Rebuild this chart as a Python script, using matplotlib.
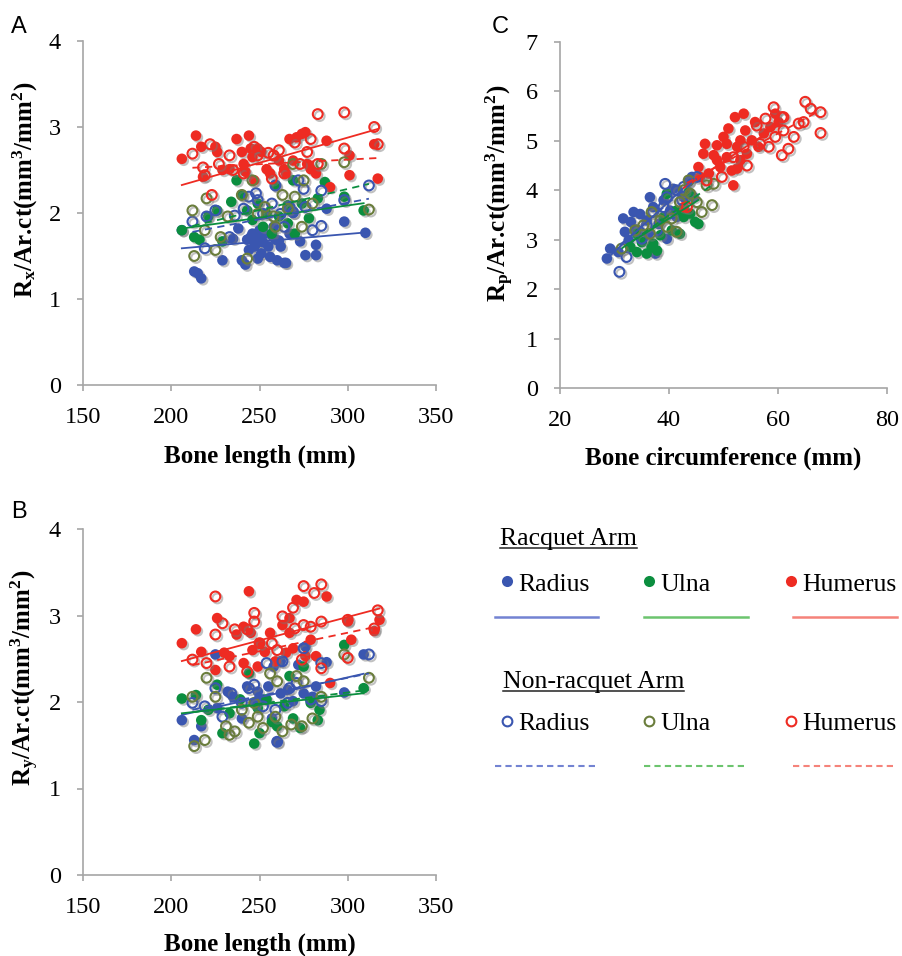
import matplotlib
matplotlib.use('Agg')
import matplotlib.pyplot as plt
import matplotlib.patheffects as pe
from matplotlib.lines import Line2D
import numpy as np

# ---- Panel A: Rx/Ar.ct vs bone length ----
a_rad_r_x = [206, 213, 217, 215, 229, 235, 238, 240, 242, 243, 244, 246, 247, 249, 249, 251, 253, 255, 256, 259,
             260, 262, 264, 265, 267, 269, 273, 276, 282, 282, 288, 298, 310, 258, 245, 250, 252, 257, 261, 248]
a_rad_r_y = [1.80, 1.32, 1.24, 1.30, 1.45, 1.70, 1.82, 1.45, 1.40, 1.69, 1.57, 1.76, 1.61, 1.47, 1.69, 1.53, 1.76,
             1.61, 1.49, 1.69, 1.45, 1.61, 1.42, 1.42, 1.76, 2.00, 1.67, 1.51, 1.63, 1.51, 2.05, 1.90, 1.77, 1.84,
             1.72, 1.80, 1.66, 1.74, 1.68, 1.64]
a_uln_r_x = [206, 213, 216, 221, 226, 229, 234, 237, 240, 243, 246, 249, 252, 254, 257, 259, 261, 266, 269, 270,
             274, 278, 283, 287, 298, 309, 266]
a_uln_r_y = [1.80, 1.72, 1.69, 1.96, 2.03, 1.67, 2.13, 2.38, 2.21, 2.03, 1.92, 2.11, 1.84, 1.99, 1.76, 2.32, 1.96,
             2.09, 2.38, 1.76, 2.11, 1.94, 2.17, 2.36, 2.19, 2.03, 1.88]
a_hum_r_x = [206, 214, 217, 218, 225, 226, 229, 233, 237, 240, 241, 242, 244, 245, 246, 247, 249, 251, 254, 256,
             261, 264, 265, 267, 269, 271, 274, 276, 277, 279, 282, 288, 290, 301, 301, 315, 317]
a_hum_r_y = [2.63, 2.90, 2.77, 2.42, 2.77, 2.71, 2.50, 2.51, 2.86, 2.71, 2.57, 2.48, 2.90, 2.75, 2.65, 2.38, 2.75,
             2.71, 2.51, 2.46, 2.61, 2.51, 2.46, 2.86, 2.61, 2.88, 2.92, 2.94, 2.57, 2.51, 2.46, 2.84, 2.30, 2.67,
             2.44, 2.80, 2.40]
a_rad_n_x = [212, 219, 220, 225, 233, 236, 241, 244, 248, 249, 252, 257, 259, 262, 264, 269, 272, 275, 276, 280,
             285, 285, 298, 312, 267]
a_rad_n_y = [1.90, 1.59, 1.96, 2.03, 1.72, 1.97, 2.05, 2.19, 2.23, 2.15, 1.99, 2.11, 2.32, 1.99, 1.84, 2.01, 2.38,
             2.28, 2.07, 1.80, 2.26, 1.85, 2.15, 2.32, 2.07]
a_uln_n_x = [212, 213, 219, 220, 225, 228, 232, 240, 243, 246, 249, 253, 258, 263, 266, 269, 270, 274, 275, 280,
             285, 298, 312, 259]
a_uln_n_y = [2.03, 1.50, 1.80, 2.17, 1.57, 1.72, 1.96, 2.21, 1.47, 2.38, 1.99, 2.07, 1.96, 2.21, 2.05, 2.57, 2.19,
             1.84, 2.38, 2.11, 2.57, 2.59, 2.04, 1.84]
a_hum_n_x = [212, 218, 219, 223, 222, 227, 233, 241, 247, 249, 255, 258, 261, 264, 270, 273, 277, 279, 283, 283,
             298, 298, 315, 317, 257, 235]
a_hum_n_y = [2.69, 2.53, 2.44, 2.21, 2.80, 2.57, 2.67, 2.46, 2.77, 2.67, 2.70, 2.67, 2.73, 2.46, 2.82, 2.57, 2.71,
             2.86, 3.15, 2.57, 3.17, 2.75, 3.00, 2.80, 2.40, 2.50]
# trendline (slope, intercept) as shown: radius, ulna, humerus
a_fit_r = [(0.00177, 1.225), (0.00286, 1.23), (0.00587, 1.116)]
a_fit_n = [(0.00386, 0.962), (0.0049, 0.81), (0.00108, 2.297)]

# ---- Panel B: Ry/Ar.ct vs bone length ----
b_rad_r_x = [206, 213, 217, 225, 226, 232, 235, 240, 243, 247, 249, 252, 255, 257, 260, 262, 266, 269, 272, 275,
             276, 280, 282, 288, 298, 309, 258, 262]
b_rad_r_y = [1.79, 1.56, 1.72, 2.55, 1.93, 2.12, 2.06, 1.81, 2.18, 1.99, 2.12, 2.03, 2.18, 1.81, 1.54, 2.10, 2.14,
             2.01, 2.43, 2.10, 2.64, 2.06, 2.18, 2.46, 2.11, 2.55, 2.41, 2.47]
b_uln_r_x = [206, 214, 217, 221, 226, 229, 233, 239, 244, 247, 249, 250, 254, 257, 260, 264, 267, 269, 273, 275,
             279, 283, 284, 298, 309]
b_uln_r_y = [2.04, 2.08, 1.79, 1.91, 2.20, 1.64, 1.87, 2.03, 2.33, 1.52, 1.93, 1.64, 2.03, 1.77, 1.72, 1.95, 2.30,
             1.81, 1.70, 2.41, 1.99, 1.79, 1.91, 2.66, 2.16]
b_hum_r_x = [206, 214, 217, 225, 226, 230, 233, 237, 241, 244, 245, 246, 249, 250, 253, 256, 259, 263, 265, 267,
             269, 271, 275, 276, 279, 282, 288, 290, 300, 302, 315, 318, 241, 267]
b_hum_r_y = [2.68, 2.84, 2.58, 2.37, 2.97, 2.57, 2.53, 2.78, 2.45, 3.28, 2.80, 2.60, 2.41, 2.68, 2.58, 2.80, 2.47,
             2.89, 2.57, 2.97, 2.62, 3.18, 3.16, 2.53, 2.72, 2.53, 3.22, 2.22, 2.93, 2.72, 2.82, 2.95, 2.87, 2.80]
b_rad_n_x = [212, 219, 225, 229, 234, 240, 244, 247, 252, 254, 259, 260, 263, 266, 271, 275, 279, 285, 285, 312, 267]
b_rad_n_y = [1.99, 1.95, 2.16, 1.83, 2.10, 1.99, 2.16, 2.20, 1.95, 2.45, 1.91, 1.54, 2.47, 1.99, 2.22, 2.62, 2.03,
             2.45, 2.01, 2.55, 2.16]
b_uln_n_x = [212, 213, 219, 220, 225, 231, 233, 236, 240, 244, 247, 249, 252, 256, 259, 260, 263, 268, 271, 274,
             275, 280, 285, 298, 312]
b_uln_n_y = [2.06, 1.49, 1.56, 2.28, 2.06, 1.72, 1.62, 1.66, 1.91, 1.76, 1.99, 1.83, 1.70, 2.33, 1.83, 2.24, 1.66,
             1.74, 2.30, 1.72, 2.24, 1.81, 2.06, 2.55, 2.28]
b_hum_n_x = [212, 220, 225, 225, 229, 233, 236, 243, 243, 247, 247, 250, 257, 260, 263, 269, 270, 274, 275, 275,
             279, 281, 285, 285, 285, 300, 300, 315, 317]
b_hum_n_y = [2.49, 2.45, 3.22, 2.78, 2.91, 2.41, 2.84, 2.84, 2.35, 3.03, 2.93, 2.68, 2.68, 2.60, 2.99, 3.09, 2.85,
             2.49, 3.34, 2.89, 2.87, 3.26, 3.36, 2.93, 2.39, 2.95, 2.51, 2.85, 3.06]
b_fit_r = [(0.00462, 0.899), (0.00225, 1.406), (0.00542, 1.357)]
b_fit_n = [(0.0042, 1.02), (0.0026, 1.33), (0.00427, 1.52)]

# ---- Panel C: Rp/Ar.ct vs bone circumference ----
c_rad_r_x = [28.6, 29.2, 30.7, 31.6, 31.9, 32.6, 33.5, 34.1, 34.7, 35.3, 35.9, 36.5, 37.1, 37.5, 38.1, 39.0, 39.6,
             40.2, 40.8, 41.4, 42.7, 43.6, 44.2, 44.5, 33.0, 36.2]
c_rad_r_y = [2.62, 2.82, 2.75, 3.43, 3.16, 2.99, 3.56, 3.19, 3.52, 3.05, 3.39, 3.86, 3.66, 2.72, 3.32, 3.80, 3.02,
             3.59, 4.03, 3.46, 3.86, 4.17, 4.27, 3.86, 3.36, 3.12]
c_uln_r_x = [32.9, 34.1, 35.0, 35.9, 36.8, 37.8, 38.4, 39.0, 39.6, 40.5, 41.4, 42.0, 42.7, 43.9, 44.8, 45.4, 43.6,
             34.1, 37.1]
c_uln_r_y = [2.85, 2.75, 2.95, 2.72, 2.85, 2.78, 3.09, 3.46, 3.93, 3.19, 3.59, 3.12, 3.46, 3.53, 3.36, 3.32, 3.96,
             3.12, 2.92]
c_hum_r_x = [45.4, 46.3, 46.6, 47.3, 48.2, 48.8, 49.4, 50.0, 50.6, 50.9, 51.5, 51.8, 52.1, 52.5, 53.1, 53.7, 54.0,
             54.3, 55.2, 55.8, 56.4, 57.4, 58.6, 59.5, 60.1, 52.5, 48.8, 45.7, 53.1, 50.6, 42.7]
c_hum_r_y = [4.47, 4.74, 4.94, 4.34, 4.71, 4.91, 4.47, 5.08, 4.67, 5.25, 4.40, 4.10, 5.48, 4.88, 4.61, 5.55, 5.21,
             4.74, 5.01, 5.38, 4.88, 5.15, 5.28, 5.55, 5.38, 4.44, 4.61, 4.27, 5.01, 4.94, 3.66]
c_rad_n_x = [30.9, 32.2, 34.1, 35.9, 37.1, 39.3, 39.6, 41.4, 42.4, 42.7, 45.1, 37.8, 40.2, 35.0, 39.0]
c_rad_n_y = [2.35, 2.65, 3.19, 3.29, 3.56, 4.13, 3.86, 4.00, 3.80, 4.07, 4.27, 3.19, 3.53, 3.02, 3.66]
c_uln_n_x = [31.3, 33.8, 35.3, 36.5, 36.8, 38.4, 39.6, 40.5, 41.4, 42.0, 42.7, 43.6, 45.1, 46.0, 46.9, 47.9, 48.2,
             43.9]
c_uln_n_y = [2.82, 3.19, 3.29, 3.12, 3.56, 3.39, 3.26, 3.43, 3.16, 3.76, 4.00, 4.20, 3.76, 3.56, 4.10, 3.70, 4.13,
             3.93]
c_hum_n_x = [43.3, 46.9, 49.7, 53.7, 54.3, 56.1, 57.7, 58.3, 59.2, 59.5, 60.7, 60.7, 61.0, 61.9, 62.9, 63.8, 64.7,
             65.0, 66.0, 67.8, 67.8, 51.8, 56.7, 61.0]
c_hum_n_y = [3.66, 4.20, 4.27, 4.88, 4.50, 5.31, 5.45, 4.88, 5.68, 5.08, 5.48, 4.71, 5.21, 4.84, 5.08, 5.35, 5.38,
             5.79, 5.65, 5.58, 5.16, 4.67, 4.94, 5.48]
c_fit_r = [(0.1016, -0.29), (0.069, 0.67), (0.073, 0.93)]
c_fit_n = [(0.095, -0.05), (0.0775, 0.395), (0.06, 1.55)]

bones = ['Radius', 'Ulna', 'Humerus']
filled_colors = ['#3a56b0', '#0b8e3f', '#ee2b22']
open_colors = ['#3a56b0', '#6a7d3c', '#ee2b22']
dash_colors = ['#3a56b0', '#0b8e3f', '#ee2b22']
legend_line_colors = ['#7383d2', '#6cc46e', '#f5837a']

plt.rcParams['font.family'] = 'Liberation Serif'
plt.rcParams['mathtext.fontset'] = 'custom'
plt.rcParams['mathtext.rm'] = 'Liberation Serif:bold'
plt.rcParams['mathtext.it'] = 'Liberation Serif:bold:italic'
plt.rcParams['mathtext.bf'] = 'Liberation Serif:bold'

W, H = 902, 956
fig = plt.figure(figsize=(W / 100, H / 100), dpi=100)

shadow_fill = [pe.SimplePatchShadow(offset=(1.4, -1.4), shadow_rgbFace='#777777', alpha=0.45), pe.Normal()]
shadow_open = [pe.SimpleLineShadow(offset=(1.4, -1.4), shadow_color='#777777', alpha=0.45), pe.Normal()]


def draw_panel(ax, racquet, nonracquet, fit_r, fit_n, xlim, xticks, ylim, yticks, xlabel, ylabel, lab_pos):
    for (x, y), c in zip(racquet, filled_colors):
        ax.scatter(x, y, s=58, color=c, edgecolors='none', zorder=2, path_effects=shadow_fill)
    for (x, y), c in zip(nonracquet, open_colors):
        ax.scatter(x, y, s=50, facecolors='none', edgecolors=c, linewidths=1.5, zorder=2.5,
                   path_effects=shadow_open)
    for (x, y), (m, b), c in zip(racquet, fit_r, filled_colors):
        xs = np.array([min(x), max(x)])
        ax.plot(xs, m * xs + b, color=c, lw=1.3, zorder=3)
    for (x, y), (m, b), c in zip(nonracquet, fit_n, dash_colors):
        xs = np.array([min(x), max(x)])
        ax.plot(xs, m * xs + b, color=c, lw=1.3, ls=(0, (4, 3)), zorder=3)

    ax.set_xlim(xlim)
    ax.set_ylim(ylim)
    ax.set_xticks(xticks)
    ax.set_yticks(yticks)
    for s in ['top', 'right']:
        ax.spines[s].set_visible(False)
    for s in ['left', 'bottom']:
        ax.spines[s].set_color('#a6a6a6')
        ax.spines[s].set_linewidth(1.2)
    ax.tick_params(direction='out', length=4, width=1.2, color='#a6a6a6', labelsize=17.5, pad=12)
    ax.set_xlabel(xlabel, fontsize=18, fontweight='bold')
    ax.set_ylabel(ylabel, fontsize=18, fontweight='bold')
    ax.xaxis.label.set_va('center')
    ax.yaxis.label.set_va('center')
    ax.xaxis.set_label_coords(0.5, lab_pos[0])
    ax.yaxis.set_label_coords(lab_pos[1], lab_pos[2])


axA = fig.add_axes([83 / W, 1 - 385 / H, 353 / W, 344 / H])
draw_panel(axA,
           [(a_rad_r_x, a_rad_r_y), (a_uln_r_x, a_uln_r_y), (a_hum_r_x, a_hum_r_y)],
           [(a_rad_n_x, a_rad_n_y), (a_uln_n_x, a_uln_n_y), (a_hum_n_x, a_hum_n_y)],
           a_fit_r, a_fit_n, (150, 350), [150, 200, 250, 300, 350], (0, 4), [0, 1, 2, 3, 4],
           'Bone length (mm)', r'R$_\mathrm{x}$/Ar.ct(mm$^\mathrm{3}$/mm$^\mathrm{2}$)', (-0.207, -0.164, 0.567))

axB = fig.add_axes([83 / W, 1 - 875 / H, 353 / W, 346 / H])
draw_panel(axB,
           [(b_rad_r_x, b_rad_r_y), (b_uln_r_x, b_uln_r_y), (b_hum_r_x, b_hum_r_y)],
           [(b_rad_n_x, b_rad_n_y), (b_uln_n_x, b_uln_n_y), (b_hum_n_x, b_hum_n_y)],
           b_fit_r, b_fit_n, (150, 350), [150, 200, 250, 300, 350], (0, 4), [0, 1, 2, 3, 4],
           'Bone length (mm)', r'R$_\mathrm{y}$/Ar.ct(mm$^\mathrm{3}$/mm$^\mathrm{2}$)', (-0.199, -0.164, 0.571))

axC = fig.add_axes([560 / W, 1 - 388 / H, 327 / W, 346 / H])
draw_panel(axC,
           [(c_rad_r_x, c_rad_r_y), (c_uln_r_x, c_uln_r_y), (c_hum_r_x, c_hum_r_y)],
           [(c_rad_n_x, c_rad_n_y), (c_uln_n_x, c_uln_n_y), (c_hum_n_x, c_hum_n_y)],
           c_fit_r, c_fit_n, (20, 80), [20, 40, 60, 80], (0, 7), [0, 1, 2, 3, 4, 5, 6, 7],
           'Bone circumference (mm)', r'R$_\mathrm{p}$/Ar.ct(mm$^\mathrm{3}$/mm$^\mathrm{2}$)', (-0.203, -0.183, 0.564))

# panel letters
for letter, px, py in [('A', 11, 33), ('C', 492, 33), ('B', 11, 518)]:
    fig.text(px / W, 1 - py / H, letter, family='Liberation Sans', fontsize=17, va='baseline')

# custom legend
renderer = fig.canvas.get_renderer()


def header(px, py, label):
    t = fig.text(px / W, 1 - py / H, label, fontsize=18.5, va='baseline')
    bb = t.get_window_extent(renderer)
    yl = 1 - (py + 3) / H
    fig.add_artist(Line2D([bb.x0 / W, bb.x1 / W], [yl, yl], color='#222222', lw=1.1))


header(500, 545, 'Racquet Arm')
header(503, 688, 'Non-racquet Arm')

dot_x = [507, 649, 791]
line_x = [(495, 598), (644, 748), (793, 897)]
for i, name in enumerate(bones):
    fig.add_artist(Line2D([dot_x[i] / W], [1 - 581 / H], marker='o', ms=8, color=filled_colors[i],
                          markeredgewidth=0))
    fig.text((dot_x[i] + 11) / W, 1 - 591 / H, name, fontsize=18.5, va='baseline')
    fig.add_artist(Line2D([line_x[i][0] / W, line_x[i][1] / W], [1 - 617 / H] * 2,
                          color=legend_line_colors[i], lw=1.8))

    fig.add_artist(Line2D([dot_x[i] / W], [1 - 721 / H], marker='o', ms=7, markerfacecolor='none',
                          markeredgecolor=open_colors[i], markeredgewidth=1.5))
    fig.text((dot_x[i] + 11) / W, 1 - 730 / H, name, fontsize=18.5, va='baseline')
    fig.add_artist(Line2D([line_x[i][0] / W, line_x[i][1] / W], [1 - 766 / H] * 2,
                          color=legend_line_colors[i], lw=1.5, ls=(0, (3, 2))))

fig.savefig('out.png', dpi=100)
